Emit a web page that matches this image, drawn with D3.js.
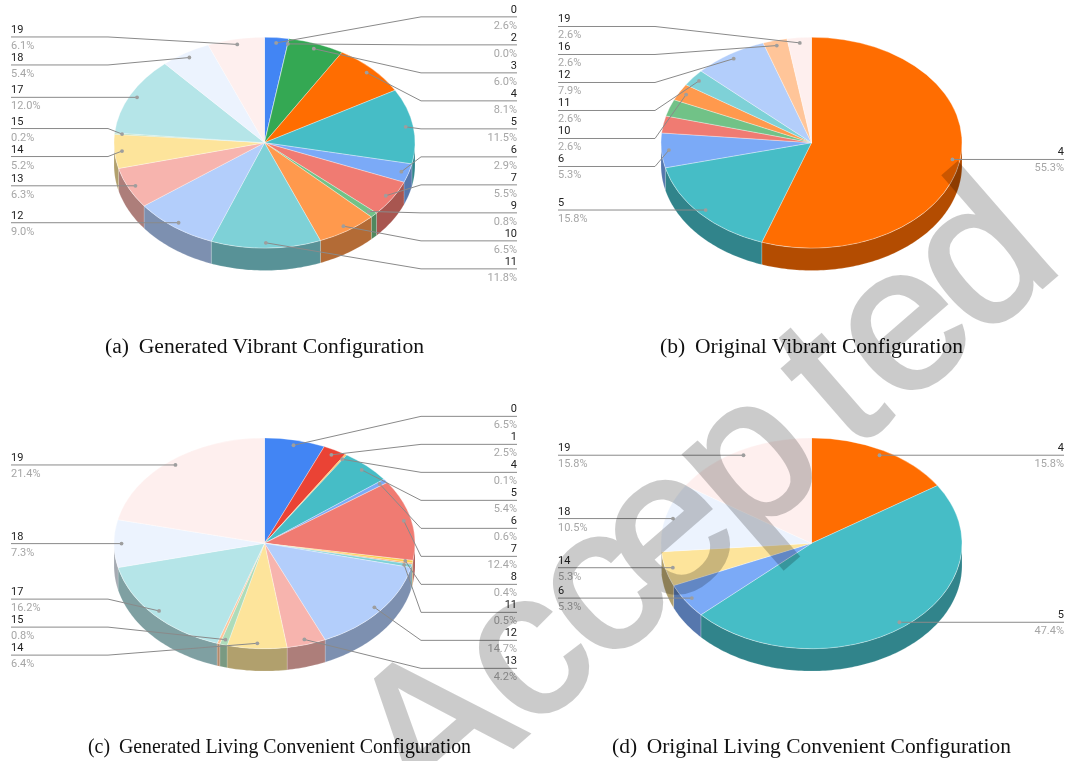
<!DOCTYPE html>
<html>
<head>
<meta charset="utf-8">
<script src="https://cdn.jsdelivr.net/npm/d3@7/dist/d3.min.js"></script>
<style>
html,body{margin:0;padding:0;background:#fff;overflow:hidden}
svg{display:block}
text{filter:grayscale(1)}
</style>
</head>
<body>
<svg id="chart" width="1065" height="761"></svg>
<script>
const palette = ["#4285f4","#ea4335","#fbbc04","#34a853","#ff6d01","#46bdc6","#7baaf7","#f07b72","#fcd04f","#71c287","#ff994d","#7ed1d7","#b3cefb","#f7b4ae","#fde49b","#aedcba","#ffc599","#b5e5e8","#ecf3fe","#feefee"];

const namesA  = [0,2,3,4,5,6,7,9,10,11,12,13,14,15,17,18,19];
const valuesA = [2.6,0.0,6.0,8.1,11.5,2.9,5.5,0.8,6.5,11.8,9.0,6.3,5.2,0.2,12.0,5.4,6.1];
const hiddenA = [];

const namesB  = [4,5,6,7,9,10,11,12,16,19];
const valuesB = [55.3,15.8,5.3,2.6,2.6,2.6,2.6,7.9,2.6,2.6];
const hiddenB = [7,9];

const namesC  = [0,1,2,4,5,6,7,8,10,11,12,13,14,15,16,17,18,19];
const valuesC = [6.5,2.5,0.1,0.1,5.4,0.6,12.4,0.4,0.2,0.5,14.7,4.2,6.4,0.8,0.3,16.2,7.3,21.4];
const hiddenC = [2,10,16];

const namesD  = [4,5,6,14,18,19];
const valuesD = [15.8,47.4,5.3,5.3,10.5,15.8];
const hiddenD = [];

const captions = ["(a)\u00a0\u2009Generated Vibrant Configuration","(b)\u00a0\u2009Original Vibrant Configuration","(c)\u00a0\u2009Generated Living Convenient Configuration","(d)\u00a0\u2009Original Living Convenient Configuration"];
const watermark = "Accepted";

const svg = d3.select("#chart");
const RX = 150.5, RY = 105.4, DEPTH = 22.4, ANCHOR = 0.95, STEP = 28;
const FONT = "Roboto, Arial, 'Liberation Sans', sans-serif";

function shade(hex) {
  const c = d3.rgb(hex);
  return d3.rgb(c.r*.7, c.g*.7, c.b*.7).formatHex();
}

function drawPie(cx, cy, names, values, hidden) {
  const g = svg.append("g");
  const rows = names.map((n,i)=>({name:n,value:values[i]}));
  const arcs = d3.pie().sort(null).value(d=>d.value)(rows);
  const yScale = RY / RX;

  const side = d3.line().x(d=>d[0]).y(d=>d[1]);
  const sideG = g.append("g");
  arcs.forEach(a=>{
    const lo = Math.max(a.startAngle, Math.PI/2), hi = Math.min(a.endAngle, Math.PI*1.5);
    if (hi <= lo) return;
    const n = Math.max(2, Math.ceil((hi-lo)/0.02));
    const ang = d3.range(n+1).map(i=>lo+(hi-lo)*i/n);
    const top = ang.map(t=>[cx+RX*Math.sin(t), cy-RY*Math.cos(t)]);
    const bot = ang.slice().reverse().map(t=>[cx+RX*Math.sin(t), cy-RY*Math.cos(t)+DEPTH]);
    sideG.append("path")
      .attr("d", side(top.concat(bot))+"Z")
      .attr("fill", shade(palette[a.data.name]))
      .attr("stroke","#fff").attr("stroke-opacity",.35).attr("stroke-width",.5);
  });

  const arc = d3.arc().innerRadius(0).outerRadius(RX);
  g.append("g").attr("transform",`translate(${cx},${cy}) scale(1,${yScale})`)
    .selectAll("path").data(arcs).join("path")
    .attr("d",arc)
    .attr("fill",d=>palette[d.data.name])
    .attr("stroke","#fff").attr("stroke-opacity",.55).attr("stroke-width",.6)
    .attr("vector-effect","non-scaling-stroke");

  const items = arcs.filter(a=>!hidden.includes(a.data.name)).map(a=>{
    const m = (a.startAngle+a.endAngle)/2;
    return {
      name:a.data.name, value:a.data.value,
      right: m < Math.PI,
      px: cx+RX*ANCHOR*Math.sin(m),
      py: cy-RY*ANCHOR*Math.cos(m)
    };
  });

  [true,false].forEach(right=>{
    const list = items.filter(d=>d.right===right).sort((a,b)=>a.py-b.py);
    let clusters = list.map(d=>({members:[d],min:d.py,max:d.py}));
    const place = c => { const mid=(c.min+c.max)/2, h=(c.members.length-1)*STEP; c.top=mid-h/2; c.bottom=mid+h/2; };
    clusters.forEach(place);
    let merged = true;
    while (merged) {
      merged = false;
      for (let i=0;i<clusters.length-1;i++) {
        if (clusters[i+1].top < clusters[i].bottom+STEP) {
          const a=clusters[i], b=clusters[i+1];
          const c={members:a.members.concat(b.members),min:Math.min(a.min,b.min),max:Math.max(a.max,b.max)};
          place(c);
          clusters.splice(i,2,c);
          merged = true;
          break;
        }
      }
    }
    const elbow = right ? cx+156.5 : cx-156.5;
    const edge  = right ? cx+252.5 : cx-253.5;
    clusters.forEach(c=>c.members.forEach((d,i)=>{
      const y = c.top + i*STEP;
      g.append("path")
        .attr("d",d3.line()([[d.px,d.py],[elbow,y],[edge,y]]))
        .attr("fill","none").attr("stroke","#8a8a8a").attr("stroke-width",1);
      g.append("circle").attr("cx",d.px).attr("cy",d.py).attr("r",1.9).attr("fill","#9e9e9e");
      g.append("text").attr("x",edge).attr("y",y-4)
        .attr("text-anchor",right?"end":"start")
        .attr("font-family",FONT).attr("font-size",11).attr("fill","#222")
        .text(d.name);
      g.append("text").attr("x",edge).attr("y",y+12)
        .attr("text-anchor",right?"end":"start")
        .attr("font-family",FONT).attr("font-size",11).attr("fill","#a6a6a6")
        .text(d.value.toFixed(1)+"%");
    }));
  });
}

drawPie(264.5,142.7,namesA,valuesA,hiddenA);
drawPie(811.5,142.7,namesB,valuesB,hiddenB);
drawPie(264.5,543.3,namesC,valuesC,hiddenC);
drawPie(811.5,543.3,namesD,valuesD,hiddenD);

const capX = [105,660,88,612], capY = [352.5,352.5,753,753], capW = [319,303,383,399];
captions.forEach((t,i)=>{
  svg.append("text").attr("x",capX[i]).attr("y",capY[i])
    .attr("font-family","'Liberation Serif',serif").attr("font-size",20).attr("fill","#111")
    .attr("textLength",capW[i]).attr("lengthAdjust","spacingAndGlyphs")
    .text(t);
});

svg.append("g").attr("opacity",.2).append("text")
  .attr("transform","translate(425,823.6) rotate(-41)")
  .attr("dx","0 0 -4.5 -20.5 -6 27 6 -8")
  .attr("font-family","'Liberation Sans',Arial,sans-serif")
  .attr("font-size",205)
  .attr("fill","#000").attr("stroke","#000").attr("stroke-width",4).attr("stroke-linejoin","miter")
  .text(watermark);
</script>
</body>
</html>
